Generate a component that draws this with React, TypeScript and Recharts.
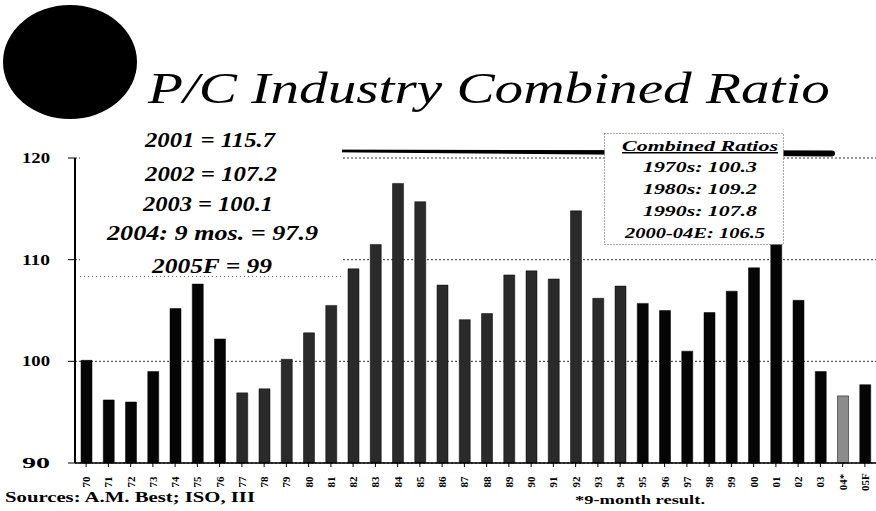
import { BarChart, Bar, XAxis, YAxis, CartesianGrid, Cell } from 'recharts';

const years = [
  '70', '71', '72', '73', '74', '75', '76', '77', '78', '79',
  '80', '81', '82', '83', '84', '85', '86', '87', '88', '89',
  '90', '91', '92', '93', '94', '95', '96', '97', '98', '99',
  '00', '01', '02', '03', '04*', '05F',
];
const ratios = [
  100.1, 96.2, 96.0, 99.0, 105.2, 107.6, 102.2, 96.9, 97.3, 100.2,
  102.8, 105.5, 109.1, 111.5, 117.5, 115.7, 107.5, 104.1, 104.7, 108.5,
  108.9, 108.1, 114.8, 106.2, 107.4, 105.7, 105.0, 101.0, 104.8, 106.9,
  109.2, 115.7, 106.0, 99.0, 96.6, 97.7,
];
const yTicks = [90, 100, 110, 120];
const recentNotes = ['2001 = 115.7', '2002 = 107.2', '2003 = 100.1', '2004: 9 mos. = 97.9', '2005F = 99'];
const decadeNotes = ['1970s: 100.3', '1980s: 109.2', '1990s: 107.8', '2000-04E: 106.5'];

const data = years.map((year, i) => ({ year, ratio: ratios[i] }));

const SERIF = '"Liberation Serif", "DejaVu Serif", serif';

// text placement for the two note boxes (x start, baseline, width)
const recentPos = [
  [145, 147, 130], [145, 181, 132], [143, 211, 130], [107, 240, 211], [152, 273, 120],
];
const decadePos = [
  [643, 172, 114], [643, 194, 114], [643, 216, 114], [625, 238, 140],
];

function YearTick(props: any) {
  const { x, y, payload } = props;
  return (
    <text
      x={x}
      y={y + 13}
      transform={`rotate(-90 ${x} ${y + 13})`}
      textAnchor="middle"
      dominantBaseline="central"
      fontFamily={SERIF}
      fontWeight="bold"
      fontSize={11}
      fill="#000"
    >
      {payload.value}
    </text>
  );
}

function ValueTick(props: any) {
  const { y, payload } = props;
  return (
    <text x={22} y={y + 5} textLength={28} lengthAdjust="spacingAndGlyphs"
      fontFamily={SERIF} fontWeight="bold" fontSize={14} fill="#000">
      {payload.value}
    </text>
  );
}

function barFill(i: number) {
  if (i === 34) return '#8c8c8c';
  if (i >= 7 && i <= 24) return '#2a2a2a';
  return '#050505';
}

export default function App() {
  return (
    <div style={{ position: 'absolute', left: 0, top: 0, width: 876, height: 511, background: '#fff', overflow: 'hidden' }}>
      <svg width={876} height={170} style={{ position: 'absolute', left: 0, top: 0 }}>
        <ellipse cx={70} cy={62} rx={67} ry={57} fill="#000" />
        <text
          x={148}
          y={103}
          textLength={682}
          lengthAdjust="spacingAndGlyphs"
          fontFamily={SERIF}
          fontStyle="italic"
          fontSize={44}
          fill="#000"
        >
          P/C Industry Combined Ratio
        </text>
        <path d="M140,147 L300,149.5 L832,150.5 A3,3 0 0 1 832,156.5 L300,152 L140,148 Z" fill="#000" />
      </svg>

      <div style={{ position: 'absolute', left: 0, top: 0 }}>
        <BarChart width={876} height={511} data={data} margin={{ top: 158, right: 0, bottom: 0, left: 0 }} barSize={11}>
          <CartesianGrid vertical={false} stroke="#333" strokeDasharray="2 2" />
          <XAxis
            dataKey="year"
            interval={0}
            height={48}
            tick={<YearTick />}
            tickSize={4}
            axisLine={{ stroke: '#000', strokeWidth: 1.5 }}
            tickLine={{ stroke: '#000' }}
          />
          <YAxis
            domain={[90, 120]}
            ticks={yTicks}
            width={75}
            tickSize={7}
            axisLine={{ stroke: '#000', strokeWidth: 2 }}
            tickLine={{ stroke: '#000' }}
            tick={<ValueTick />}
          />
          <Bar dataKey="ratio" isAnimationActive={false} stroke="#000" strokeWidth={0.5}>
            {data.map((d, i) => (
              <Cell key={d.year} fill={barFill(i)} />
            ))}
          </Bar>
        </BarChart>
      </div>

      <svg width={876} height={511} style={{ position: 'absolute', left: 0, top: 0, pointerEvents: 'none' }}>
        <rect x={80} y={126} width={262} height={150} fill="#fff" />
        <line x1={80} y1={276.5} x2={342} y2={276.5} stroke="#666" strokeDasharray="1 3" />
        {recentNotes.map((t, i) => (
          <text key={t} x={recentPos[i][0]} y={recentPos[i][1]} textLength={recentPos[i][2]} lengthAdjust="spacingAndGlyphs"
            fontFamily={SERIF} fontStyle="italic" fontWeight="bold" fontSize={20} fill="#000">
            {t}
          </text>
        ))}

        <rect x={604.5} y={133.5} width={179} height={111} fill="#fff" stroke="#555" strokeDasharray="1 2" />
        <text x={622} y={151} textLength={156} lengthAdjust="spacingAndGlyphs"
          fontFamily={SERIF} fontStyle="italic" fontWeight="bold" fontSize={15} fill="#000" textDecoration="underline">
          Combined Ratios
        </text>
        {decadeNotes.map((t, i) => (
          <text key={t} x={decadePos[i][0]} y={decadePos[i][1]} textLength={decadePos[i][2]} lengthAdjust="spacingAndGlyphs"
            fontFamily={SERIF} fontStyle="italic" fontWeight="bold" fontSize={15} fill="#000">
            {t}
          </text>
        ))}

        <text x={5} y={502} textLength={250} lengthAdjust="spacingAndGlyphs"
          fontFamily={SERIF} fontWeight="bold" fontSize={14} fill="#000">
          Sources: A.M. Best; ISO, III
        </text>
        <text x={575} y={504} textLength={130} lengthAdjust="spacingAndGlyphs"
          fontFamily={SERIF} fontWeight="bold" fontSize={13} fill="#000">
          *9-month result.
        </text>
      </svg>
    </div>
  );
}
